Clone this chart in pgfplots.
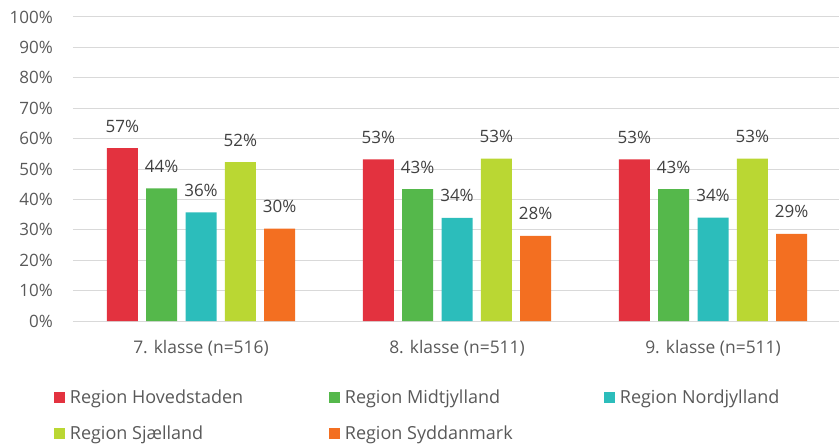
\documentclass[border=0pt]{standalone}
\usepackage{fontspec}
\setmainfont{Open Sans}
\usepackage{pgfplots}
\usepackage{pgfplotstable}
\pgfplotsset{compat=1.18}

\definecolor{cHov}{HTML}{E3323F}
\definecolor{cMid}{HTML}{55B84B}
\definecolor{cNord}{HTML}{2CBDBB}
\definecolor{cSjae}{HTML}{BAD733}
\definecolor{cSyd}{HTML}{F36F21}
\definecolor{txt}{HTML}{595959}
\definecolor{lbl}{HTML}{404040}
\definecolor{grid}{HTML}{D9D9D9}

% andel i procent pr. klassetrin og region
\pgfplotstableread{
x hov  mid  nord sjae syd
0 56.9 43.6 35.7 52.3 30.4
1 53.2 43.4 33.9 53.4 28.0
2 53.2 43.4 34.0 53.4 28.7
}\datatable

\newcommand{\fs}{\fontsize{17bp}{20bp}\selectfont}
\newcommand{\fc}{\fontsize{17.4bp}{20bp}\selectfont}
\newcommand{\fl}{\fontsize{18bp}{21bp}\selectfont}
\newcommand{\legent}[1]{\makebox[262bp][l]{\hspace{4bp}#1}}

\begin{document}
\begin{tikzpicture}
\path[use as bounding box] (-73bp,-123bp) rectangle (766bp,321bp);
\begin{axis}[
  scale only axis,
  width=768bp, height=304bp,
  xmin=-0.5, xmax=2.5,
  ymin=0, ymax=100,
  ytick={0,10,...,100},
  xtick=data,
  xticklabels={7. klasse (n=516), 8. klasse (n=511), 9. klasse (n=511)},
  /pgf/number format/assume math mode=true,
  yticklabel={\pgfmathprintnumber{\tick}\%},
  ybar=8.3bp, bar width=31bp,
  axis line style={draw=none},
  major tick length=0pt,
  ymajorgrids, grid style={draw=grid, line width=1bp},
  tick label style={font=\fs, text=txt},
  yticklabel style={inner sep=0pt, xshift=-20bp},
  xticklabel style={inner sep=0pt, yshift=-19bp, font=\fc},
  nodes near coords={\pgfmathprintnumber[fixed,precision=0]{\pgfplotspointmeta}\%},
  every node near coord/.append style={font=\fs, text=lbl, anchor=base, inner sep=0pt, yshift=16bp},
  legend columns=3,
  legend style={at={(axis description cs:-0.029,-0.215)}, anchor=north west,
    draw=none, fill=none, font=\fl, text=txt, row sep=19bp,
    nodes={inner sep=1bp}},
  legend cell align=left,
  legend image code/.code={\fill[#1] (0bp,-5.5bp) rectangle (11bp,5.5bp);},
]
\addplot[fill=cHov, draw=none] table[x=x, y=hov] {\datatable};
\addlegendentry{\legent{Region Hovedstaden}}
\addplot[fill=cMid, draw=none] table[x=x, y=mid] {\datatable};
\addlegendentry{\legent{Region Midtjylland}}
\addplot[fill=cNord, draw=none] table[x=x, y=nord] {\datatable};
\addlegendentry{\hspace{4bp}Region Nordjylland}
\addplot[fill=cSjae, draw=none] table[x=x, y=sjae] {\datatable};
\addlegendentry{\legent{Region Sjælland}}
\addplot[fill=cSyd, draw=none] table[x=x, y=syd] {\datatable};
\addlegendentry{\legent{Region Syddanmark}}
\end{axis}
\end{tikzpicture}
\end{document}
